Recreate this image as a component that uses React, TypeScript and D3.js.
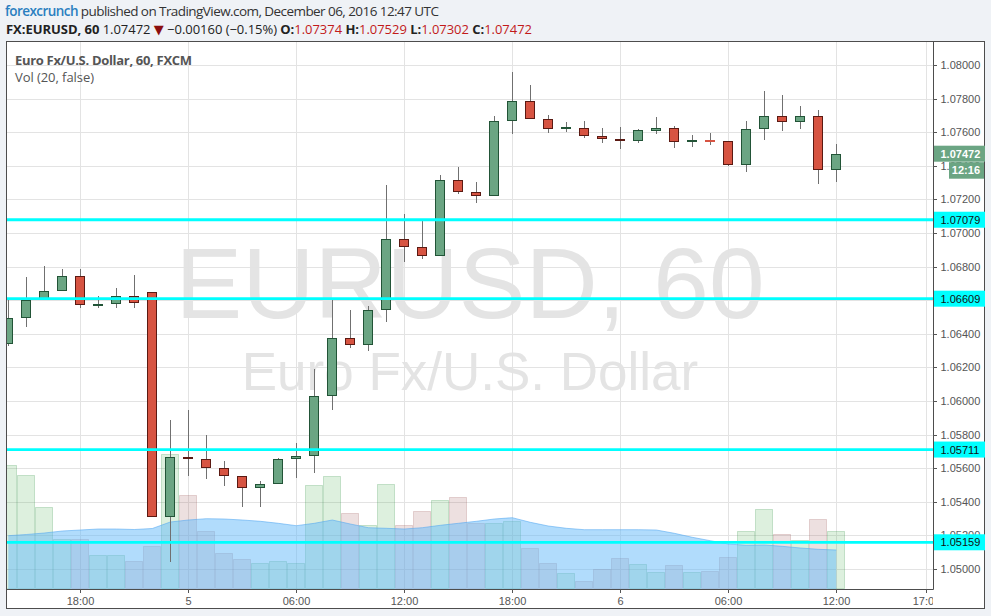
import React, { useEffect } from 'react';
import * as d3 from 'd3';

// ---- data (EURUSD, 60 min, FXCM) ----
const FIRST_BAR_UTC = Date.UTC(2016, 11, 4, 14);
const opens = [
  1.06338, 1.06492, 1.06599, 1.06653, 1.06742, 1.06569, 1.06576, 1.06623, 1.06647, 1.05311,
  1.05665, 1.05653, 1.05599, 1.05552, 1.0548, 1.05504, 1.05653, 1.05671, 1.06028, 1.06373,
  1.06332, 1.0654, 1.06963, 1.06915, 1.06861, 1.07314, 1.07242, 1.07218, 1.07665, 1.07784,
  1.07677, 1.07617, 1.07623, 1.07576, 1.07558, 1.07546, 1.07609, 1.07623, 1.07542, 1.07549,
  1.07546, 1.07407, 1.07617, 1.07695, 1.07659, 1.07695, 1.07374,
];
const highs = [
  1.06601, 1.06738, 1.06804, 1.06786, 1.06786, 1.06625, 1.06671, 1.0675, 1.0665, 1.05887,
  1.05946, 1.05798, 1.05643, 1.05552, 1.05524, 1.05659, 1.0575, 1.0619, 1.06601, 1.06542,
  1.06565, 1.07286, 1.07113, 1.07071, 1.07345, 1.07393, 1.07304, 1.07696, 1.07958, 1.07881,
  1.07702, 1.07661, 1.07667, 1.07625, 1.07631, 1.07617, 1.0769, 1.07637, 1.07582, 1.07595,
  1.07546, 1.07667, 1.07845, 1.07821, 1.07756, 1.0773, 1.07529,
];
const lows = [
  1.06327, 1.06442, 1.06599, 1.06653, 1.06555, 1.06555, 1.06555, 1.06555, 1.05311, 1.05043,
  1.05555, 1.05534, 1.05496, 1.05371, 1.05371, 1.05504, 1.05543, 1.05573, 1.05948, 1.06317,
  1.06299, 1.06472, 1.06829, 1.06843, 1.06861, 1.0723, 1.07177, 1.07218, 1.07591, 1.07677,
  1.07597, 1.07603, 1.07567, 1.07538, 1.07502, 1.07538, 1.07591, 1.07508, 1.07514, 1.07526,
  1.07401, 1.07365, 1.07555, 1.07609, 1.07621, 1.0729, 1.07302,
];
const closes = [
  1.06492, 1.06599, 1.06653, 1.06742, 1.0657, 1.06574, 1.06623, 1.06582, 1.05311, 1.05665,
  1.05653, 1.05599, 1.05552, 1.0548, 1.05504, 1.05653, 1.05671, 1.06028, 1.06373, 1.06332,
  1.0654, 1.06963, 1.06915, 1.06861, 1.07314, 1.07242, 1.07218, 1.07665, 1.07784, 1.07677,
  1.07617, 1.07623, 1.07576, 1.07558, 1.07546, 1.07611, 1.07623, 1.0754, 1.07546, 1.07546,
  1.07407, 1.07617, 1.07695, 1.07659, 1.07695, 1.07374, 1.07472,
];
const volumes = [
  12400, 11400, 8170, 5000, 5000, 3400, 3400, 2800, 4300, 13470,
  9400, 5800, 3570, 2970, 2570, 2800, 2570, 10400, 11300, 7600,
  6400, 10500, 6400, 7800, 8900, 9200, 6600, 6600, 6800, 4070,
  2570, 1570, 770, 1970, 3070, 2470, 1670, 2370, 1670, 1770,
  3170, 5800, 7970, 5470, 4900, 6970, 5800,
];
const volumeMA = [
  5330, 5450, 5600, 5800, 5900, 6000, 6000, 5950, 6050, 6700,
  6900, 7030, 7000, 6900, 6770, 6570, 6330, 6570, 6900, 6500,
  6130, 6070, 6000, 6130, 6370, 6570, 6770, 7000, 7130, 6670,
  6300, 6070, 5930, 5930, 5930, 5930, 5900, 5570, 5170, 4830,
  4500, 4370, 4400, 4270, 4100, 3970, 3900,
];
const timeTicks = [
  Date.UTC(2016, 11, 4, 18), Date.UTC(2016, 11, 5, 0), Date.UTC(2016, 11, 5, 6),
  Date.UTC(2016, 11, 5, 12), Date.UTC(2016, 11, 5, 18), Date.UTC(2016, 11, 6, 0),
  Date.UTC(2016, 11, 6, 6), Date.UTC(2016, 11, 6, 12), Date.UTC(2016, 11, 6, 17),
];
const timeTickLabels = ['18:00', '5', '06:00', '12:00', '18:00', '6', '06:00', '12:00', '17:00'];
const priceTicks = [
  1.05, 1.052, 1.054, 1.056, 1.058, 1.06, 1.062, 1.064, 1.066, 1.068,
  1.07, 1.072, 1.074, 1.076, 1.078, 1.08,
];
const levelLines = [1.07079, 1.06609, 1.05711, 1.05159];
const lastPrice = 1.07472;
const countdown = '12:16';

export default function App() {
  useEffect(() => {
    document.body.style.margin = '0';
  }, []);

  const W = 991;
  const H = 616;
  const L = 7, R = 933, T = 42, B = 589;

  const x = d3
    .scaleUtc()
    .domain([new Date(Date.UTC(2016, 11, 4, 18)), new Date(Date.UTC(2016, 11, 6, 17))])
    .range([80.3, 926.3]);
  const y = d3.scaleLinear().domain([1.05, 1.08]).range([569, 65]);
  const yv = d3.scaleLinear().domain([0, 16000]).range([589, 429]);
  const fmt = d3.format('.5f');

  const bars = opens.map((o, i) => ({
    t: new Date(FIRST_BAR_UTC + i * 3600e3),
    o,
    h: highs[i],
    l: lows[i],
    c: closes[i],
    v: volumes[i],
    ma: volumeMA[i],
  }));

  const maArea = d3
    .area<any>()
    .x((d) => x(d.t))
    .y0(B)
    .y1((d) => yv(d.ma));
  const maLine = d3
    .line<any>()
    .x((d) => x(d.t))
    .y((d) => yv(d.ma));

  const axisFont = "'Liberation Sans', Arial, sans-serif";
  const uiFont = "'Open Sans', 'DejaVu Sans', sans-serif";
  const green = '#6ba583';
  const greenBorder = '#225437';
  const red = '#d75442';
  const redBorder = '#5b1a13';

  return (
    <svg
      width={W}
      height={H}
      style={{ display: 'block', position: 'absolute', left: 0, top: 0 }}
      xmlns="http://www.w3.org/2000/svg"
    >
      <defs>
        <clipPath id="plotClip">
          <rect x={L} y={T} width={R - L} height={B - T} />
        </clipPath>
        <clipPath id="xAxisClip">
          <rect x={L} y={B} width={R - L} height={20} />
        </clipPath>
      </defs>
      <rect x={0} y={0} width={W} height={H} fill="#eff2f6" />

      {/* header */}
      <text x={5} y={16} fontFamily={uiFont} fontSize={13.5} fill="#333" textLength={434} lengthAdjust="spacing">
        <tspan fill="#2a7fc0" fontWeight={600}>forexcrunch</tspan>
        <tspan> published on TradingView.com, December 06, 2016 12:47 UTC</tspan>
      </text>
      <text x={6} y={34} fontFamily={uiFont} fontSize={13} fill="#222" textLength={526} lengthAdjust="spacing">
        <tspan fontWeight={700}>FX:EURUSD, 60</tspan>
        <tspan> 1.07472 </tspan>
        <tspan fill="#8b0e0e">▼</tspan>
        <tspan> −0.00160 (−0.15%) </tspan>
        <tspan fontWeight={700}>O:</tspan>
        <tspan fill="#c21a1a">1.07374</tspan>
        <tspan fontWeight={700}> H:</tspan>
        <tspan fill="#c21a1a">1.07529</tspan>
        <tspan fontWeight={700}> L:</tspan>
        <tspan fill="#c21a1a">1.07302</tspan>
        <tspan fontWeight={700}> C:</tspan>
        <tspan fill="#c21a1a">1.07472</tspan>
      </text>

      {/* chart frame background */}
      <rect x={6} y={41} width={978} height={567} fill="#ffffff" />

      {/* watermark */}
      <g fontFamily={axisFont} fill="#e4e4e4" textAnchor="middle">
        <text x={(L + R) / 2} y={318} fontSize={100}>
          EURUSD, 60
        </text>
        <text x={(L + R) / 2} y={390} fontSize={53}>
          Euro Fx/U.S. Dollar
        </text>
      </g>

      {/* grid */}
      <g stroke="#e3e3e3" strokeWidth={1}>
        {priceTicks.map((p) => (
          <line key={'h' + p} x1={L} x2={R} y1={Math.round(y(p)) + 0.5} y2={Math.round(y(p)) + 0.5} />
        ))}
        {timeTicks.map((t) => (
          <line key={'v' + t} x1={Math.round(x(new Date(t))) + 0.5} x2={Math.round(x(new Date(t))) + 0.5} y1={T} y2={B} />
        ))}
      </g>

      <g clipPath="url(#plotClip)">
        {/* volume bars */}
        {bars.map((d, i) => {
          const up = d.c >= d.o;
          const X = Math.round(x(d.t) - 9);
          const top = Math.round(yv(d.v));
          return (
            <rect
              key={'v' + i}
              x={X + 0.5}
              y={top + 0.5}
              width={17}
              height={B - 1 - top}
              fill={up ? 'rgba(76,175,80,0.19)' : 'rgba(160,90,90,0.19)'}
              stroke={up ? 'rgba(60,150,80,0.25)' : 'rgba(150,80,80,0.22)'}
              strokeWidth={1}
            />
          );
        })}
        {/* volume MA area */}
        <path d={maArea(bars) || ''} fill="rgba(100,185,250,0.5)" />
        <path d={maLine(bars) || ''} fill="none" stroke="rgba(80,165,240,0.55)" strokeWidth={1} />

        {/* candles */}
        {bars.map((d, i) => {
          const up = d.c >= d.o;
          const X = Math.round(x(d.t) - 5);
          const cx = X + 5.5;
          const yt = Math.round(y(Math.max(d.o, d.c)));
          const yb = Math.round(y(Math.min(d.o, d.c)));
          const wickTop = Math.round(y(d.h));
          const wickBot = Math.round(y(d.l));
          return (
            <g key={'c' + i}>
              <line x1={cx} x2={cx} y1={wickTop} y2={wickBot} stroke="#707070" strokeWidth={1} />
              {yb - yt < 2 ? (
                <rect x={X} y={yt - 1} width={10} height={2} fill={up ? greenBorder : red} />
              ) : (
                <rect
                  x={X + 0.5}
                  y={yt + 0.5}
                  width={9}
                  height={yb - yt - 1}
                  fill={up ? green : red}
                  stroke={up ? greenBorder : redBorder}
                  strokeWidth={1}
                />
              )}
            </g>
          );
        })}

        {/* horizontal levels */}
        {levelLines.map((p) => (
          <line key={'l' + p} x1={L} x2={R} y1={y(p)} y2={y(p)} stroke="#00ffff" strokeWidth={2.8} />
        ))}
      </g>

      {/* axes lines */}
      <g stroke="#4d4d4d" strokeWidth={1} fill="none">
        <rect x={6.5} y={41.5} width={978} height={567} />
        <line x1={R + 0.5} x2={R + 0.5} y1={41.5} y2={B + 0.5} />
        <line x1={6.5} x2={R + 0.5} y1={B + 0.5} y2={B + 0.5} />
      </g>

      {/* price axis */}
      <g fontFamily={axisFont} fontSize={11} fill="#555">
        {priceTicks.map((p) => (
          <g key={'pt' + p}>
            <line x1={R} x2={R + 4} y1={Math.round(y(p)) + 0.5} y2={Math.round(y(p)) + 0.5} stroke="#555" />
            <text x={940.5} y={y(p)} dy="0.36em">
              {fmt(p)}
            </text>
          </g>
        ))}
      </g>

      {/* level labels */}
      {levelLines.map((p) => (
        <g key={'ll' + p}>
          <rect x={R + 1} y={y(p) - 8} width={51} height={16} fill="#00ffff" />
          <text x={940.5} y={y(p)} dy="0.36em" fontFamily={axisFont} fontSize={11} fill="#111">
            {fmt(p)}
          </text>
        </g>
      ))}

      {/* last price label + countdown */}
      <rect x={R + 1} y={y(lastPrice) - 8} width={51} height={16} fill={green} />
      <text x={940.5} y={y(lastPrice)} dy="0.36em" fontFamily={axisFont} fontSize={11} fontWeight={700} fill="#fff">
        {fmt(lastPrice)}
      </text>
      <rect x={949} y={y(lastPrice) + 8.5} width={35} height={16.5} fill={green} />
      <text x={980} y={y(lastPrice) + 16.8} dy="0.36em" textAnchor="end" fontFamily={axisFont} fontSize={11} fontWeight={700} fill="#fff">
        {countdown}
      </text>

      {/* time axis */}
      <g fontFamily={axisFont} fontSize={11} fill="#555" clipPath="url(#xAxisClip)">
        {timeTicks.map((t, i) => {
          const px = Math.round(x(new Date(t))) + 0.5;
          return (
            <g key={'tt' + t}>
              <line x1={px} x2={px} y1={B} y2={B + 4} stroke="#555" />
              <text x={px} y={605} textAnchor="middle">
                {timeTickLabels[i]}
              </text>
            </g>
          );
        })}
      </g>

      {/* legend */}
      <text x={15} y={65} fontFamily={uiFont} fontSize={13} fontWeight={700} fill="#555" textLength={177} lengthAdjust="spacing">
        Euro Fx/U.S. Dollar, 60, FXCM
      </text>
      <text x={15} y={82} fontFamily={uiFont} fontSize={13} fill="#555" textLength={79} lengthAdjust="spacing">
        Vol (20, false)
      </text>
    </svg>
  );
}
